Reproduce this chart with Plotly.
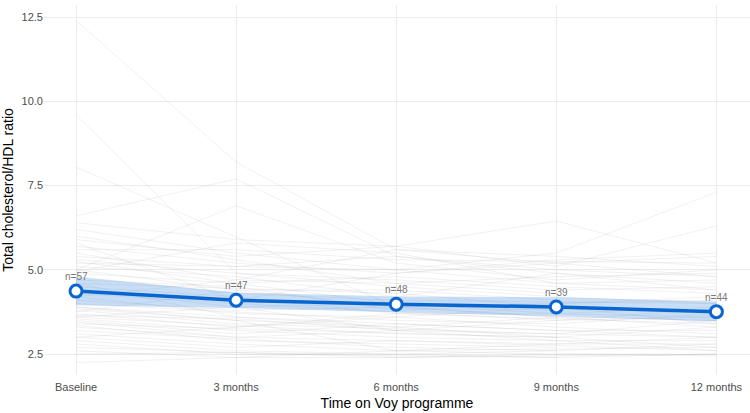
import plotly.graph_objects as go

timepoints = ["Baseline", "3 months", "6 months", "9 months", "12 months"]

# Summary (mean and 95% CI) per timepoint
mean_ratio = [4.37, 4.10, 3.98, 3.90, 3.76]
ci_lower = [3.95, 3.87, 3.74, 3.62, 3.47]
ci_upper = [4.79, 4.33, 4.21, 4.19, 4.06]
n_labels = ["n=57", "n=47", "n=48", "n=39", "n=44"]

# Individual participant trajectories (None = missing visit)
participants = [
    [12.4, 8.2, 5.6, None, 4.8],
    [9.6, 4.9, 4.5, 4.2, 4.0],
    [8.05, None, 3.9, 3.6, 3.5],
    [6.6, 7.7, 5.4, 4.9, 4.6],
    [5.0, 6.9, 5.2, 4.7, 5.0],
    [6.4, 5.9, 5.7, 6.45, 5.2],
    [6.2, 5.5, 5.0, 5.5, 7.3],
    [5.9, 5.4, 5.7, 5.1, 6.3],
    [5.7, 5.2, 4.9, 5.3, 5.5],
    [5.6, 5.6, 5.3, None, 5.2],
    [5.5, 4.7, 4.6, 4.8, 4.9],
    [5.4, 5.1, 5.4, 5.0, 4.8],
    [5.3, 4.9, 4.7, 4.4, 4.5],
    [5.2, None, 5.0, 4.6, 4.7],
    [5.1, 4.8, 4.2, 4.9, 4.4],
    [5.0, 4.4, 4.4, 4.1, None],
    [4.9, 4.6, 4.8, 4.5, 4.3],
    [4.8, 4.3, 4.1, None, 4.0],
    [4.7, 4.5, 3.8, 4.0, 4.2],
    [4.6, None, 4.3, 3.9, 3.8],
    [4.5, 4.2, 3.7, 3.7, 3.9],
    [4.4, 3.9, 4.0, 3.8, None],
    [4.3, 4.0, None, 3.5, 3.6],
    [4.2, 3.7, 3.6, 3.9, 3.4],
    [4.1, 3.8, 3.9, None, 3.3],
    [4.0, None, 3.5, 3.4, 3.7],
    [3.9, 3.6, 3.4, 3.2, 3.2],
    [3.85, 3.5, 3.3, 3.6, None],
    [3.8, 3.4, None, 3.1, 3.5],
    [3.7, 3.3, 3.6, 3.3, 3.1],
    [3.65, 3.55, 3.2, None, 3.0],
    [3.6, None, 3.1, 3.0, 3.3],
    [3.55, 3.2, 3.0, 2.9, 2.9],
    [3.5, 3.1, 3.4, None, 3.0],
    [3.45, 3.0, 2.9, 2.8, 2.8],
    [3.4, 3.25, None, 3.0, 2.7],
    [3.35, 2.9, 2.8, 2.7, None],
    [3.3, 3.0, 3.2, None, 2.6],
    [3.2, None, 2.7, 2.6, 2.8],
    [3.1, 2.8, 2.6, 2.5, 2.5],
    [3.0, 2.7, 2.9, None, 2.6],
    [2.9, 2.6, None, 2.4, 2.5],
    [2.8, 2.5, 2.5, 2.6, None],
    [2.7, None, 2.4, 2.5, 2.45],
    [2.6, 2.4, 2.6, None, 2.7],
    [2.5, 2.55, 2.45, 2.4, None],
    [2.25, 2.4, 2.4, None, 2.5],
    [6.0, 5.3, 4.6, 4.3, None],
    [5.8, 4.1, 4.9, 5.2, 5.4],
    [4.95, 5.8, 5.5, 4.6, 4.4],
    [4.2, 4.7, 5.6, 5.4, 5.1],
    [3.75, 4.4, 3.9, None, 4.1],
    [3.6, 3.9, 3.2, 3.5, 3.85],
    [3.9, 3.5, 2.6, None, 3.0],
    [4.6, 3.6, 3.3, 3.0, None],
    [5.25, 4.6, 4.0, 3.7, 3.6],
    [3.0, 3.3, 3.7, None, 3.4],
]

x_pos = list(range(len(timepoints)))
FONT = "Liberation Sans, Arial, sans-serif"

fig = go.Figure()

for vals in participants:
    fig.add_trace(go.Scatter(
        x=x_pos, y=vals, mode="lines", connectgaps=True,
        line=dict(color="rgba(175,175,175,0.30)", width=0.6),
        hoverinfo="skip", showlegend=False,
    ))

# CI ribbon
fig.add_trace(go.Scatter(
    x=x_pos + x_pos[::-1], y=ci_upper + ci_lower[::-1],
    fill="toself", fillcolor="rgba(74,144,226,0.30)",
    line=dict(width=0), mode="lines", hoverinfo="skip", showlegend=False,
))

# Mean line
fig.add_trace(go.Scatter(
    x=x_pos, y=mean_ratio, mode="lines+markers",
    line=dict(color="#0A66CF", width=3.5),
    marker=dict(size=12, color="white", line=dict(color="#0A66CF", width=3)),
    showlegend=False,
))

# n labels
for xi, yi, lab in zip(x_pos, mean_ratio, n_labels):
    fig.add_annotation(
        x=xi, y=yi, text=lab, showarrow=False, yanchor="bottom", yshift=7,
        font=dict(family=FONT, size=10, color="#777777"),
    )

fig.update_layout(
    width=750, height=413,
    margin=dict(l=44, r=0, t=5, b=38),
    paper_bgcolor="white", plot_bgcolor="white",
    font=dict(family=FONT),
    xaxis=dict(
        range=[-0.2, 4.21], tickmode="array", tickvals=x_pos, ticktext=timepoints,
        showgrid=True, gridcolor="#EBEBEB", gridwidth=1.1, zeroline=False,
        showline=False, ticks="", tickfont=dict(size=11, color="#4D4D4D"),
        ticklabelstandoff=4,
        title=dict(text="Time on Voy programme", font=dict(size=14, color="black"), standoff=6),
    ),
    yaxis=dict(
        range=[1.88, 12.86], tickvals=[2.5, 5.0, 7.5, 10.0, 12.5],
        ticktext=["2.5", "5.0", "7.5", "10.0", "12.5"],
        showgrid=True, gridcolor="#EBEBEB", gridwidth=1.1, zeroline=False,
        showline=False, ticks="", tickfont=dict(size=11, color="#4D4D4D"),
        title=dict(text="Total cholesterol/HDL ratio", font=dict(size=14, color="black"), standoff=6),
    ),
)

fig.write_html("out.html")
